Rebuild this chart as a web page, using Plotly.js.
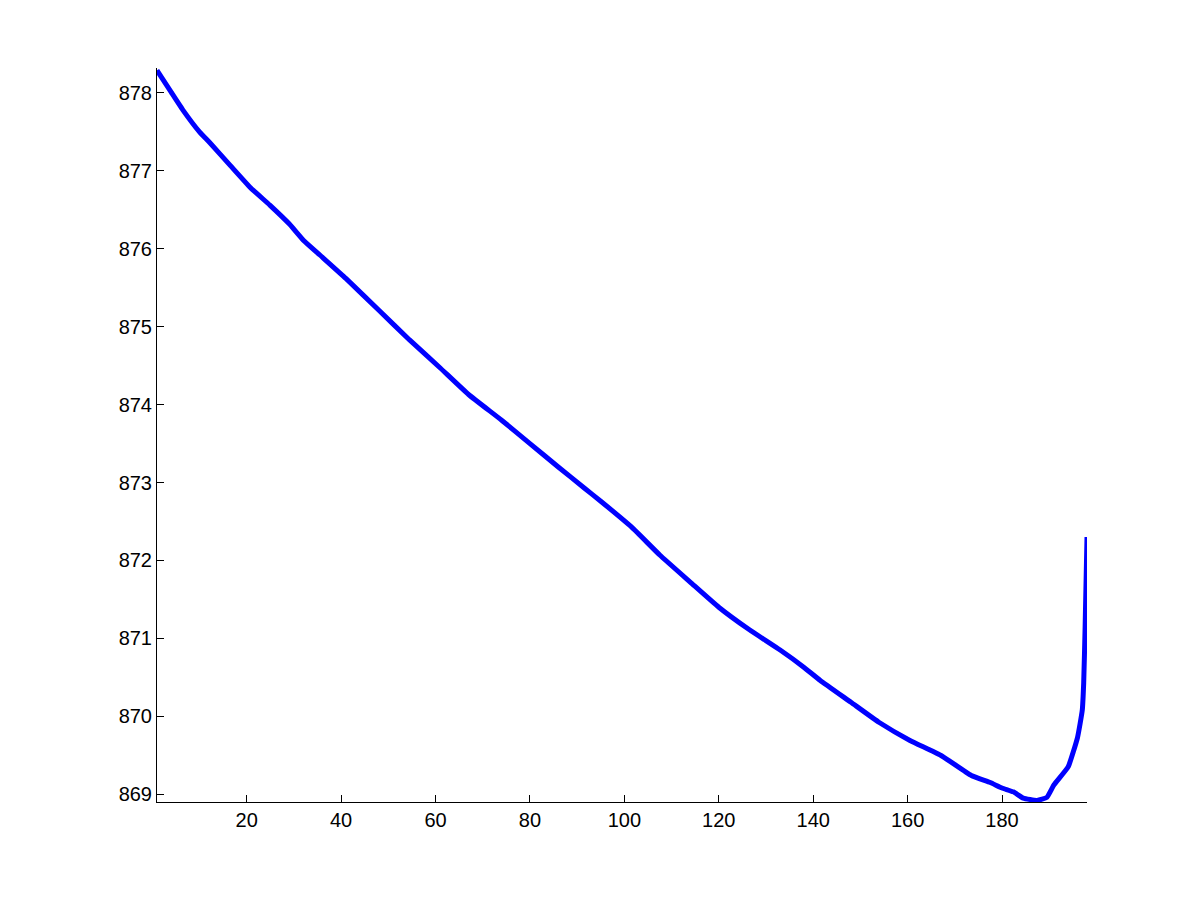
<!DOCTYPE html>
<html>
<head>
<meta charset="utf-8">
<script src="https://cdn.plot.ly/plotly-3.0.1.min.js"></script>
<style>html,body{margin:0;padding:0;background:#fff;}#chart{width:1201px;height:901px;}</style>
</head>
<body>
<div id="chart"></div>
<script>
const xValues = [1, 4, 6.5, 10, 12.2, 16.5, 20.7, 24.9, 29, 32, 35.5, 41, 48, 54.5, 61, 67, 74, 80, 86, 91.5, 95, 101.5, 107.5, 114, 120, 126.5, 133, 138, 141.5, 148, 154, 160.5, 167, 173.5, 177.5, 180, 182.4, 184.5, 187.4, 189.5, 191, 194, 196, 197, 197.3, 197.6, 198];
const yValues = [878.29, 878.01, 877.78, 877.50, 877.36, 877.07, 876.79, 876.56, 876.32, 876.11, 875.92, 875.62, 875.21, 874.83, 874.47, 874.13, 873.80, 873.50, 873.20, 872.93, 872.76, 872.43, 872.07, 871.72, 871.40, 871.11, 870.85, 870.63, 870.46, 870.18, 869.92, 869.69, 869.50, 869.24, 869.15, 869.08, 869.03, 868.95, 868.92, 868.96, 869.12, 869.35, 869.73, 870.08, 870.43, 871.14, 872.30];
const xTicks = [20, 40, 60, 80, 100, 120, 140, 160, 180];
const yTicks = [869, 870, 871, 872, 873, 874, 875, 876, 877, 878];

const trace = {
  x: xValues, y: yValues, type: 'scatter', mode: 'lines',
  line: {color: '#0000ff', width: 5, shape: 'spline', smoothing: 0.4}, hoverinfo: 'skip'
};
const axisFont = {family: 'Liberation Sans, Arial, sans-serif', size: 20, color: '#000'};
const layout = {
  width: 1201, height: 901,
  margin: {l: 157, r: 114, t: 68, b: 99, pad: 0},
  paper_bgcolor: '#fff', plot_bgcolor: '#fff',
  showlegend: false,
  xaxis: {
    range: [1, 198], tickvals: xTicks, ticktext: xTicks.map(String),
    ticks: 'inside', ticklen: 7, tickcolor: '#000', tickwidth: 1,
    showline: true, linecolor: '#000', linewidth: 1, mirror: false,
    showgrid: false, zeroline: false, tickfont: axisFont
  },
  yaxis: {
    range: [868.9, 878.32], tickvals: yTicks, ticktext: yTicks.map(String),
    ticks: 'inside', ticklen: 7, tickcolor: '#000', tickwidth: 1,
    showline: true, linecolor: '#000', linewidth: 1, mirror: false,
    showgrid: false, zeroline: false, tickfont: axisFont
  }
};
Plotly.newPlot('chart', [trace], layout, {staticPlot: true, displayModeBar: false});
</script>
</body>
</html>
